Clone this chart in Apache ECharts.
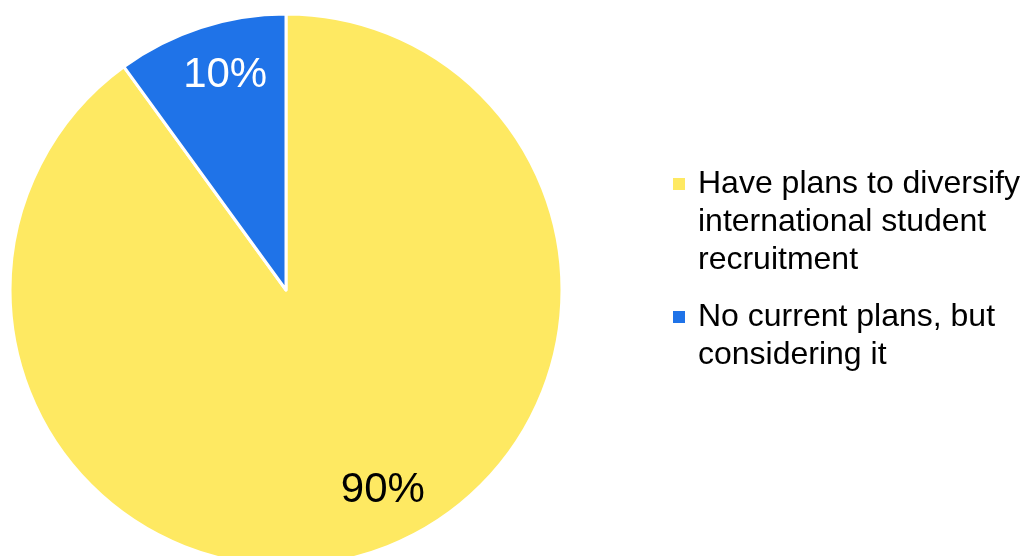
<!DOCTYPE html>
<html>
<head>
<meta charset="utf-8">
<script src="https://cdn.jsdelivr.net/npm/echarts@6/dist/echarts.min.js"></script>
<style>html,body{margin:0;padding:0;background:#fff}#c{width:1024px;height:556px}</style>
</head>
<body>
<div id="c"></div>
<script>
const categories = ["Have plans to diversify\ninternational student\nrecruitment", "No current plans, but\nconsidering it"];
const values = [90, 10];
const colors = ["#FEE962", "#1F73E8"];
const labelColors = ["#000000", "#FFFFFF"];
const labelOffsets = [[27, -15], [9, 0]];

const chart = echarts.init(document.getElementById('c'), null, {renderer: 'canvas'});
const font = '"Liberation Sans", Arial, sans-serif';
const lineH = 38;

chart.setOption({
  animation: false,
  legend: {
    orient: 'vertical',
    left: 673,
    top: 89,
    padding: 0,
    itemGap: -19,
    itemWidth: 12,
    itemHeight: 12,
    icon: 'rect',
    itemStyle: {borderWidth: 0},
    formatter: (name) => '\n'.repeat(name.split('\n').length - 1) + name,
    textStyle: {fontFamily: font, fontSize: 32, lineHeight: lineH, color: '#000', padding: [0, 0, 0, 8]},
    data: categories
  },
  series: [
    {
      type: 'pie',
      center: [286, 290],
      radius: [0, 276],
      startAngle: 90,
      clockwise: true,
      silent: true,
      label: {show: false},
      labelLine: {show: false},
      itemStyle: {borderColor: '#fff', borderWidth: 3},
      data: categories.map((n, i) => ({name: n, value: values[i], itemStyle: {color: colors[i]}}))
    },
    {
      type: 'pie',
      center: [286, 290],
      radius: [0, 446],
      startAngle: 90,
      clockwise: true,
      silent: true,
      z: 3,
      itemStyle: {color: 'rgba(0,0,0,0)', borderWidth: 0},
      label: {show: true, position: 'inside', formatter: '{d}%', fontFamily: font, fontSize: 42},
      labelLine: {show: false},
      data: categories.map((n, i) => ({name: n, value: values[i], label: {color: labelColors[i], offset: labelOffsets[i]}}))
    }
  ]
});
</script>
</body>
</html>
